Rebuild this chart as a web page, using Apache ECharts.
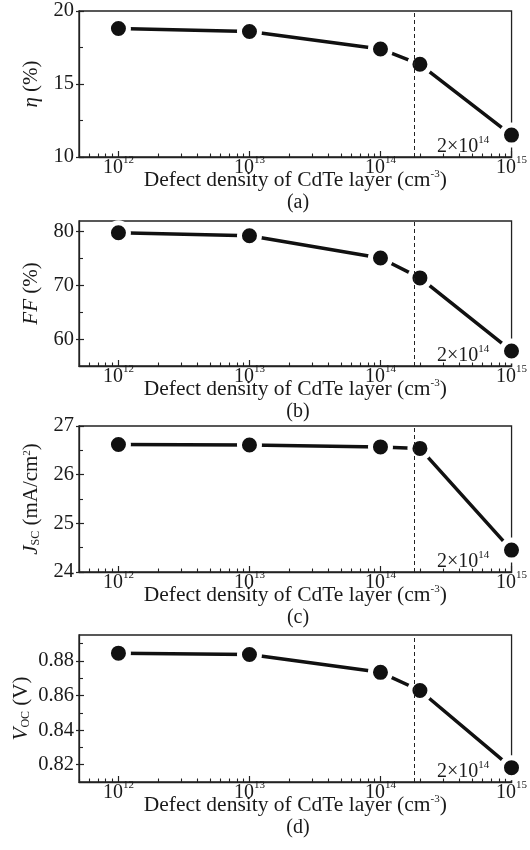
<!DOCTYPE html>
<html>
<head>
<meta charset="utf-8">
<script src="https://cdn.jsdelivr.net/npm/echarts@6/dist/echarts.min.js"></script>
<style>
html,body{margin:0;padding:0;background:#fff;}
#c{width:530px;height:850px;}
</style>
</head>
<body>
<div id="c"></div>
<script>
// ---- data ----
const defectDensity = [1e12, 1e13, 1e14, 2e14, 1e15];
const eta = [18.8, 18.6, 17.4, 16.35, 11.5];
const ff = [79.8, 79.25, 75.1, 71.4, 57.8];
const jsc = [26.62, 26.61, 26.57, 26.54, 24.45];
const voc = [0.8845, 0.8837, 0.8734, 0.8629, 0.8183];
const xMajorTicks = [1e12, 1e13, 1e14, 1e15];
const dashX = 1.82e14;
const annotationText = '2×10';
const annotationExp = '14';
const xTitle = 'Defect density of CdTe layer (cm';
const panelLabels = ['(a)', '(b)', '(c)', '(d)'];

const panels = [
  {values: eta, min: 10, max: 20, major: [10, 15, 20], minor: [12.5, 17.5],
   name: '{i|η}{n| (%)}', fmt: v => String(v)},
  {values: ff, min: 55, max: 82, major: [60, 70, 80], minor: [65, 75],
   name: '{i|FF}{n| (%)}', fmt: v => String(v)},
  {values: jsc, min: 24, max: 27, major: [24, 25, 26, 27], minor: [24.5, 25.5, 26.5],
   name: '{i|J}{sub|SC}{n| (mA/cm}{sup|2}{n|)}', fmt: v => String(v)},
  {values: voc, min: 0.81, max: 0.895, major: [0.82, 0.84, 0.86, 0.88], minor: [0.83, 0.85, 0.87, 0.89],
   name: '{i|V}{sub|OC}{n| (V)}', fmt: v => v.toFixed(2)}
];

// minor x ticks (2..9 x decade)
const xMinorTicks = [];
for (let e = 11; e <= 14; e++) {
  for (let m = 2; m <= 9; m++) {
    const v = m * Math.pow(10, e);
    if (v >= 5e11 && v <= 1e15) xMinorTicks.push(v);
  }
}

const FONT = "'Liberation Serif', 'Times New Roman', serif";
const TXT = '#1a1a1a';
const gridTops = [11, 221, 426, 635];
const gridBottoms = [157, 366, 572, 782];

const grid = [], xAxis = [], yAxis = [], series = [], graphic = [];

panels.forEach((p, k) => {
  grid.push({left: 79, right: 17, top: gridTops[k], height: gridBottoms[k] - gridTops[k],
    show: true, borderColor: '#222', borderWidth: 1.3, backgroundColor: 'transparent'});
  const xBase = {type: 'log', logBase: 10, min: 5e11, max: 1.001e15, gridIndex: k, position: 'bottom', splitLine: {show: false}};
  const xi = xAxis.length;
  xAxis.push(Object.assign({}, xBase, {
    axisLine: {show: true, lineStyle: {color: '#222', width: 1.3}},
    axisTick: {show: true, inside: true, length: 6, customValues: xMajorTicks, lineStyle: {color: '#222', width: 1.2}},
    axisLabel: {show: true, margin: -2, customValues: xMajorTicks, showMaxLabel: true, showMinLabel: true, hideOverlap: false,
      formatter: v => '{b|10}{s|' + Math.round(Math.log10(v)) + '}',
      rich: {b: {fontFamily: FONT, fontSize: 20, color: TXT, verticalAlign: 'bottom', lineHeight: 23},
             s: {fontFamily: FONT, fontSize: 11, color: TXT, verticalAlign: 'top', lineHeight: 11}}},
    name: '{n|' + xTitle + '}{sup|-3}{n|)}', nameLocation: 'middle', nameGap: 12, nameMoveOverlap: false,
    nameTextStyle: {rich: {n: {fontFamily: FONT, fontSize: 21.5, color: TXT, verticalAlign: 'bottom', lineHeight: 22},
                           sup: {fontFamily: FONT, fontSize: 11, color: TXT, verticalAlign: 'top', lineHeight: 11}}}
  }));
  xAxis.push(Object.assign({}, xBase, {
    axisLine: {show: false},
    axisTick: {show: true, inside: true, length: 3.5, customValues: xMinorTicks, lineStyle: {color: '#222', width: 1.1}},
    axisLabel: {show: false}
  }));
  const yBase = {type: 'value', min: p.min, max: p.max, gridIndex: k, splitLine: {show: false}, position: 'left'};
  const yi = yAxis.length;
  yAxis.push(Object.assign({}, yBase, {
    axisLine: {show: true, lineStyle: {color: '#222', width: 1.3}},
    axisTick: {show: true, inside: true, length: 5, customValues: p.major, lineStyle: {color: '#222', width: 1.2}},
    axisLabel: {show: true, margin: 5, customValues: p.major, formatter: p.fmt,
      fontFamily: FONT, fontSize: 20.5, color: TXT},
    name: p.name, nameLocation: 'middle', nameRotate: 90, nameGap: k === 3 ? 47 : 37, nameMoveOverlap: false,
    nameTextStyle: {rich: {
      i: {fontFamily: FONT, fontSize: 21, fontStyle: 'italic', color: TXT, verticalAlign: 'bottom', lineHeight: 20},
      n: {fontFamily: FONT, fontSize: 21, color: TXT, verticalAlign: 'bottom', lineHeight: 20},
      sub: {fontFamily: FONT, fontSize: 12, color: TXT, verticalAlign: 'bottom', lineHeight: 12},
      sup: {fontFamily: FONT, fontSize: 11, color: TXT, verticalAlign: 'top', lineHeight: 11}}}
  }));
  yAxis.push(Object.assign({}, yBase, {
    axisLine: {show: false},
    axisTick: {show: true, inside: true, length: 4, customValues: p.minor, lineStyle: {color: '#222', width: 1.1}},
    axisLabel: {show: false}
  }));
  yAxis.push(Object.assign({}, yBase, {
    axisLine: {show: false},
    axisTick: {show: true, inside: false, length: 3, customValues: p.major, lineStyle: {color: '#222', width: 1.2}},
    axisLabel: {show: false}
  }));
  series.push({
    type: 'line', xAxisIndex: xi, yAxisIndex: yi, clip: false,
    data: defectDensity.map((d, i) => [d, p.values[i]]),
    symbol: 'circle', symbolSize: 20,
    lineStyle: {color: '#111', width: 3.5},
    itemStyle: {color: '#111', borderColor: '#fff', borderWidth: 5},
    animation: false, silent: true,
    markLine: {silent: true, symbol: ['none', 'none'], label: {show: false},
      lineStyle: {color: '#222', width: 1, type: [4, 3]},
      data: [{xAxis: dashX}]}
  });
  graphic.push({type: 'text', left: 437, top: gridBottoms[k] - 22, silent: true,
    style: {text: '{b|' + annotationText + '}{s|' + annotationExp + '}',
      rich: {b: {fontFamily: FONT, fontSize: 20, fill: TXT, verticalAlign: 'bottom', lineHeight: 22},
             s: {fontFamily: FONT, fontSize: 11, fill: TXT, verticalAlign: 'top', lineHeight: 11}}}});
  graphic.push({type: 'text', x: 298, y: gridBottoms[k] + 46, silent: true,
    style: {text: panelLabels[k], align: 'center', verticalAlign: 'middle',
      font: '20px ' + FONT, fill: TXT}});
});

const chart = echarts.init(document.getElementById('c'), null, {renderer: 'canvas'});
chart.setOption({animation: false, backgroundColor: '#fff', grid, xAxis, yAxis, series, graphic});
</script>
</body>
</html>
